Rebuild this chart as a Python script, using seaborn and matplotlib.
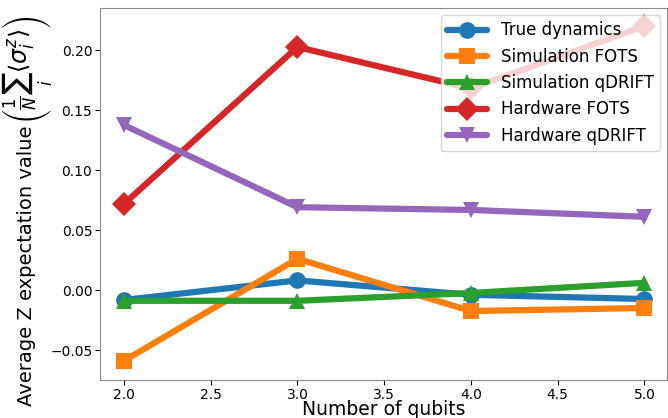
import pandas as pd
import matplotlib
matplotlib.use("Agg")
import matplotlib.pyplot as plt
import seaborn as sns

qubits = [2, 3, 4, 5]
true_dynamics = [-0.0083, 0.008, -0.004, -0.0075]
sim_fots = [-0.059, 0.026, -0.0175, -0.015]
sim_qdrift = [-0.009, -0.009, -0.0025, 0.006]
hw_fots = [0.0717, 0.2025, 0.168, 0.22]
hw_qdrift = [0.1375, 0.069, 0.0667, 0.061]

series = {
    "True dynamics": true_dynamics,
    "Simulation FOTS": sim_fots,
    "Simulation qDRIFT": sim_qdrift,
    "Hardware FOTS": hw_fots,
    "Hardware qDRIFT": hw_qdrift,
}
markers = {
    "True dynamics": "o",
    "Simulation FOTS": "s",
    "Simulation qDRIFT": "^",
    "Hardware FOTS": "D",
    "Hardware qDRIFT": "v",
}

rows = []
for name, vals in series.items():
    for q, v in zip(qubits, vals):
        rows.append({"qubits": q, "value": v, "method": name})
df = pd.DataFrame(rows)

sns.set_style("white", {"axes.edgecolor": "0.55", "text.color": "black",
                        "axes.labelcolor": "black", "xtick.color": "black",
                        "ytick.color": "black"})
plt.rcParams["font.family"] = ["DejaVu Sans"]

fig = plt.figure(figsize=(6.68, 4.18), dpi=100)
ax = fig.add_axes([100 / 668, 1 - 380 / 418, 567 / 668, 372 / 418])

sns.lineplot(data=df, x="qubits", y="value", hue="method", style="method",
             markers=markers, dashes=False, linewidth=4.5, markersize=12,
             markeredgewidth=0, palette="tab10", ax=ax)

ax.set_xlim(1.862, 5.13)
ax.set_ylim(-0.075, 0.235)
ax.set_xticks([2.0, 2.5, 3.0, 3.5, 4.0, 4.5, 5.0])
ax.set_yticks([-0.05, 0.0, 0.05, 0.10, 0.15, 0.20])
ax.tick_params(axis="both", labelsize=10, length=3.5, pad=2, direction="out",
               left=True, bottom=True, colors="black")
ax.set_xlabel("Number of qubits", fontsize=13.5, va="top")
ax.xaxis.set_label_coords(0.5, -0.054)

# y label: plain part as the axis label, the math part drawn a bit larger above it
ax.set_ylabel("Average Z expectation value", fontsize=14)
ax.yaxis.set_label_coords(-0.113, 0.306)
fig.text(27 / 668, 1 - 124 / 418,
         r"$\left(\frac{1}{N}\sum_i\langle\sigma_i^z\rangle\right)$",
         fontsize=17, rotation=90, ha="center", va="bottom")

leg = ax.legend(loc="upper right", fontsize=12, framealpha=0.8,
                handlelength=2.4, borderaxespad=0.4)
for h in leg.legend_handles:
    h.set_linewidth(4.5)
    h.set_markersize(12)

fig.savefig("out.png", dpi=100)
